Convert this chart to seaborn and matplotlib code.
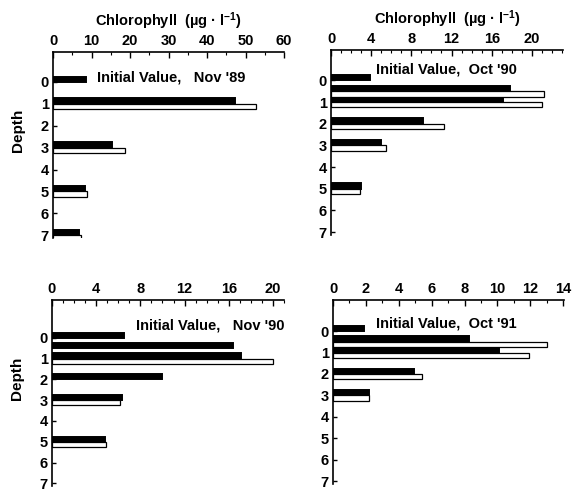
import numpy as np
import pandas as pd
import seaborn as sns
import matplotlib.pyplot as plt
from matplotlib.ticker import MultipleLocator

# chlorophyll per depth, black = first series, white = second series (nan = no bar)
depth_nov89 = [0, 1, 3, 5, 7]
black_nov89 = [8.5, 47.4, 15.4, 8.2, 6.7]
white_nov89 = [np.nan, 52.7, 18.7, 8.8, 7.2]

depth_oct90 = [0, 0.5, 1, 2, 3, 5]
black_oct90 = [3.9, 17.8, 17.1, 9.2, 5.0, 3.0]
white_oct90 = [np.nan, 21.2, 21.0, 11.3, 5.5, 2.9]

depth_nov90 = [0, 0.5, 1, 2, 3, 5]
black_nov90 = [6.5, 16.4, 17.1, 10.0, 6.3, 4.8]
white_nov90 = [np.nan, np.nan, 20.0, np.nan, 6.2, 4.9]

depth_oct91 = [0, 0.5, 1, 2, 3]
black_oct91 = [1.9, 8.3, 10.1, 4.9, 2.2]
white_oct91 = [np.nan, 13.0, 11.9, 5.4, 2.2]

labels = ["Initial Value,   Nov '89", "Initial Value,  Oct '90",
          "Initial Value,   Nov '90", "Initial Value,  Oct '91"]
depth_ticks = [0, 1, 2, 3, 4, 5, 6, 7]

sns.set_style("white")
plt.rcParams['font.family'] = ['Liberation Sans', 'DejaVu Sans']
plt.rcParams['font.weight'] = 'bold'
plt.rcParams['mathtext.default'] = 'regular'
for k in ['text.color', 'axes.labelcolor', 'xtick.color', 'ytick.color']:
    plt.rcParams[k] = 'black'


def make_df(depths, black, white):
    rows = []
    for d, b, w in zip(depths, black, white):
        rows.append({"depth": d, "chl": b, "series": "a"})
        if not np.isnan(w):
            rows.append({"depth": d, "chl": w, "series": "b"})
    return pd.DataFrame(rows)


fig = plt.figure(figsize=(5.75, 4.91), dpi=100)
W, H = 575, 491

# (left, top, right, bottom) in pixels, xlim, major, minor, ylim top, bar width, text pos
panels = [
    ((53, 52, 284, 238), 60, 10, 5, -1.37, 0.5, (11.4, -0.2),
     (depth_nov89, black_nov89, white_nov89)),
    ((331, 50, 563, 235), 23.1, 4, 1, -1.4, 1.0, (4.5, -0.5),
     (depth_oct90, black_oct90, white_oct90)),
    ((52, 300, 284, 486), 21.0, 4, 1, -1.82, 1.0, (7.6, -0.6),
     (depth_nov90, black_nov90, white_nov90)),
    ((333, 300, 564, 484), 14.05, 2, 1, -1.45, 1.0, (2.6, -0.36),
     (depth_oct91, black_oct91, white_oct91)),
]

for i, (box, xmax, major, minor, ytop, width, tpos, data) in enumerate(panels):
    l, t, r, b = box
    ax = fig.add_axes([l / W, 1 - b / H, (r - l) / W, (b - t) / H])
    df = make_df(*data)
    sns.barplot(data=df, x="chl", y="depth", hue="series", hue_order=["a", "b"],
                orient="y", native_scale=True, width=width, dodge=True, gap=0,
                palette=["black", "white"], edgecolor="black", linewidth=0.9,
                errorbar=None, legend=False, ax=ax)
    # black bars print a bit heavier than the open ones
    for p in ax.patches:
        if p.get_facecolor()[0] < 0.5:
            p.set_linewidth(1.4)
    ax.set_xlim(0, xmax)
    ax.set_ylim(7.13, ytop)
    ax.xaxis.set_major_locator(MultipleLocator(major))
    ax.xaxis.set_minor_locator(MultipleLocator(minor))
    ax.set_yticks(depth_ticks)
    ax.tick_params(axis="x", which="both", top=True, bottom=False, labeltop=True,
                   labelbottom=False, direction="in", labelsize=10.5, pad=3)
    ax.tick_params(axis="x", which="major", length=4, width=1)
    ax.tick_params(axis="x", which="minor", length=2.5, width=0.8)
    ax.tick_params(axis="y", left=True, direction="in", length=3, width=1,
                   labelsize=10.5, pad=3)
    for s in ["right", "bottom"]:
        ax.spines[s].set_visible(False)
    for s in ["left", "top"]:
        ax.spines[s].set_linewidth(1.2)
        ax.spines[s].set_color("black")
    ax.set_xlabel("")
    if i % 2 == 0:
        ax.set_ylabel("Depth", fontsize=11, fontweight="bold")
        ax.yaxis.set_label_coords(-0.12, 0.58)
    else:
        ax.set_ylabel("")
    if i < 2:
        ax.set_title(r"Chlorophyll  (µg · l$^{-1}$)", fontsize=10.5,
                     fontweight="bold", pad=19)
    ax.text(tpos[0], tpos[1], labels[i], ha="left", va="center",
            fontsize=10.5, fontweight="bold")

fig.savefig("out.png", dpi=100)
